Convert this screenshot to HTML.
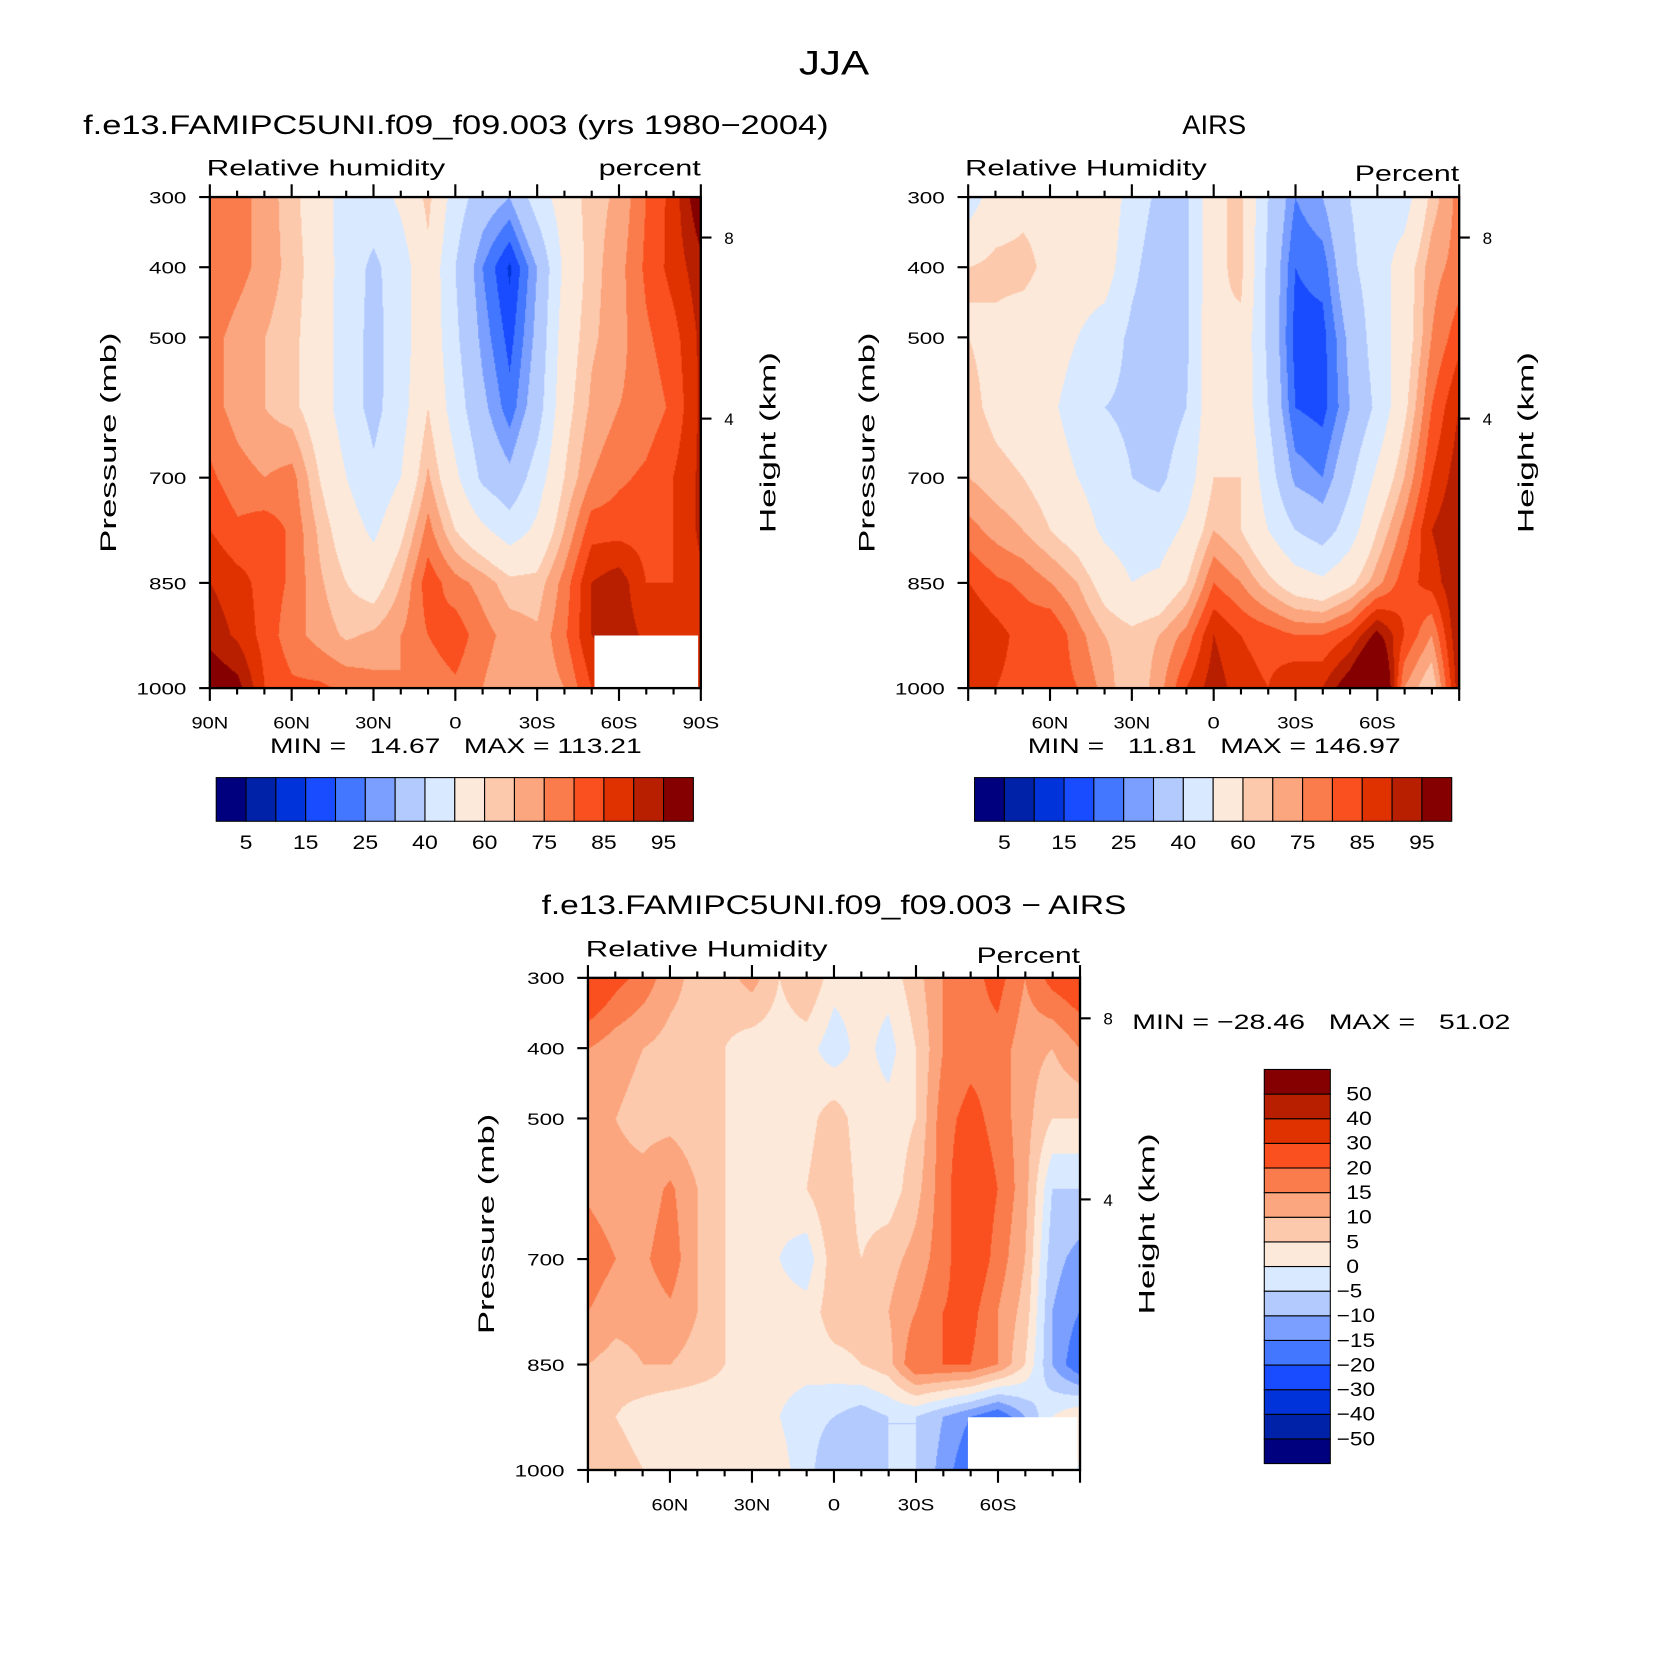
<!DOCTYPE html>
<html><head><meta charset="utf-8">
<style>
html,body{margin:0;padding:0;background:#fff;overflow:hidden;width:1669px;height:1666px}
#wrap{position:absolute;left:0;top:0;width:1567px;height:1564px;transform-origin:0 0;transform:scale(1.0651,1.0652)}
canvas{position:absolute}
svg{position:absolute;left:0;top:0}
text{font-family:"Liberation Sans",sans-serif;fill:#000}
</style></head><body>
<div id="wrap">
<canvas id="c1" width="461" height="461" style="left:197px;top:185px"></canvas>
<canvas id="c2" width="461" height="461" style="left:909px;top:185px"></canvas>
<canvas id="c3" width="462" height="462" style="left:552px;top:918px"></canvas>
<svg id="s" width="1567" height="1564"></svg>
</div>
<script>
const lats=[90,80,70,60,50,40,30,20,10,0,-10,-20,-30,-40,-50,-60,-70,-80,-90];
const pres=[300,400,500,600,700,775,850,925,1000];
const modelRH=[
[72,72,68,62,55,45,45,52,62,45,35,30,45,55,63,66,75,82,95],
[75,72,68,63,56,45,38,45,58,40,25,14,30,52,63,68,76,82,88],
[72,68,65,62,55,45,37,45,58,42,28,18,32,55,64,68,74,78,86],
[72,68,65,62,55,45,37,46,60,45,32,22,35,57,66,70,72,76,86],
[76,72,70,72,60,50,42,50,66,52,38,32,45,60,70,74,76,80,86],
[80,76,78,74,64,55,48,58,72,60,52,45,52,65,78,78,78,80,86],
[85,82,78,74,66,60,56,65,78,72,68,62,62,72,85,88,80,80,84],
[88,84,78,72,68,64,66,70,75,78,72,68,66,74,85,88,84,82,84],
[95,92,80,76,76,74,72,70,72,74,70,66,66,70,80,85,85,85,85]];
const airsRH=[
[45,55,58,58,58,58,45,38,38,58,62,40,25,30,40,45,45,62,72],
[60,62,62,58,55,55,42,35,38,58,62,38,20,22,38,45,55,68,72],
[60,58,56,55,50,45,38,35,38,60,58,38,18,18,32,45,55,70,78],
[62,58,56,52,45,40,38,35,40,58,58,40,20,18,30,42,58,75,85],
[65,62,60,56,50,45,40,38,45,60,60,45,28,25,38,52,65,80,88],
[72,68,65,60,55,48,45,45,52,65,60,50,40,35,45,60,72,85,90],
[80,76,74,70,65,56,50,52,60,75,70,62,55,52,58,68,78,82,90],
[85,82,78,80,72,65,62,65,72,85,80,78,75,75,80,92,80,70,90],
[85,80,78,78,75,68,60,68,80,88,82,80,85,85,95,110,70,60,88]];
const diffRH=[
[28,22,18,12,8,8,12,5,10,2,2,2,8,15,18,22,15,22,25],
[15,12,10,8,8,5,2,2,2,-3,2,-2,5,15,18,18,12,10,15],
[12,10,8,8,6,5,2,2,3,8,2,2,5,18,22,18,12,5,5],
[14,12,12,16,10,5,2,2,5,10,3,2,8,18,25,20,12,-5,-5],
[18,15,14,18,10,5,2,0,-3,8,5,8,12,18,25,18,10,-8,-12],
[15,12,12,14,10,5,2,2,2,8,8,10,15,20,22,15,8,-10,-15],
[10,8,10,10,8,5,2,2,2,3,5,8,20,20,20,15,5,-10,-20],
[8,5,2,0,0,2,2,0,-3,-5,-8,-5,-5,-10,-15,-20,-10,0,5],
[10,8,5,5,5,2,2,2,-3,-10,-5,-5,-5,-12,-20,-30,-20,-10,0]];
const rhLevels=[5,10,15,20,25,30,40,50,60,65,70,75,80,85,90,95];
const rhLabels=["5","15","25","40","60","75","85","95"];
const diffLevels=[-50,-40,-30,-20,-15,-10,-5,0,5,10,15,20,30,40,50];
const colors=["#00007f","#0022a8","#0033d9","#1a4cff","#4477ff","#7b9fff","#b3caff","#d9e9ff","#fde9da","#fcc9ac","#fba67e","#fa7b4b","#fa4f1e","#e03100","#b71f00","#850000"];

function levelColor(v,lv){let i=0;while(i<lv.length&&v>=lv[i])i++;return colors[Math.min(i,15)];}
function sample(grid,lat,p){
  let fx=(90-lat)/10; let i=Math.min(17,Math.floor(fx)); let tx=fx-i;
  let j=0; while(j<pres.length-2&&p>pres[j+1])j++;
  let ty=(p-pres[j])/(pres[j+1]-pres[j]);
  const a=grid[j][i],b=grid[j][i+1],c=grid[j+1][i],d=grid[j+1][i+1];
  return (a*(1-tx)+b*tx)*(1-ty)+(c*(1-tx)+d*tx)*ty;
}
function fill(id,grid,lv){
  const cv=document.getElementById(id),ctx=cv.getContext('2d'),W=cv.width,H=cv.height;
  for(let y=0;y<H;y++){const p=300+700*y/(H-1);
    for(let x=0;x<W;x++){const lat=90-180*x/(W-1);
      ctx.fillStyle=levelColor(sample(grid,lat,p),lv);ctx.fillRect(x,y,1,1);}}
}
fill('c1',modelRH,rhLevels);fill('c2',airsRH,rhLevels);fill('c3',diffRH,diffLevels);

const S=document.getElementById('s');const NS='http://www.w3.org/2000/svg';
function el(tag,at,txt){const e=document.createElementNS(NS,tag);for(const k in at)e.setAttribute(k,at[k]);if(txt!==undefined)e.textContent=txt;S.appendChild(e);return e;}
function T(x,y,s,size,anchor,name,rot,len){const at={x:x,y:y,'font-size':size,'text-anchor':anchor||'start'};if(rot)at.transform='rotate(-90 '+x+' '+y+')';if(len){at.textLength=len;at.lengthAdjust='spacingAndGlyphs';}const e=el('text',at,s);e.style.whiteSpace='pre';return e;}

T(783,70,'JJA',32,'middle','figure-title',false,66);

function panel(x0,y0,w,h,pfx,latLabels,blanks){
  const X=lat=>x0+(90-lat)/180*w, Y=p=>y0+(p-300)/700*h;
  blanks.forEach(b=>{const r=el('rect',{x:X(b[0]),y:Y(b[1]),width:X(b[2])-X(b[0]),height:Y(1000)-Y(b[1]),fill:'#fff'});
    });
  const fr=el('rect',{x:x0,y:y0,width:w,height:h,fill:'none',stroke:'#000','stroke-width':2.2});
  
  for(let lat=90;lat>=-90;lat-=10){const maj=lat%30===0;const L=maj?12:6;const x=X(lat);
    el('line',{x1:x,x2:x,y1:y0,y2:y0-L,stroke:'#000','stroke-width':2});
    el('line',{x1:x,x2:x,y1:y0+h,y2:y0+h+L,stroke:'#000','stroke-width':2});
    if(maj){const lab=lat===0?'0':Math.abs(lat)+(lat>0?'N':'S');
      if(latLabels.indexOf(lab)>=0) T(x,y0+h+38,lab,16,'middle',pfx+'-x-tick-label',false,lab.length*11.5);}}
  [300,400,500,700,850,1000].forEach(p=>{el('line',{x1:x0,x2:x0-10,y1:Y(p),y2:Y(p),stroke:'#000','stroke-width':2});
    const s=String(p);T(x0-22,Y(p)+6,s,16,'end',pfx+'-y-tick-label',false,s.length*11.7);});
  [[223,'8'],[393,'4']].forEach(a=>{const yy=y0+(a[0]-185);el('line',{x1:x0+w,x2:x0+w+10,y1:yy,y2:yy,stroke:'#000','stroke-width':2});
    T(x0+w+22,yy+6,a[1],16,'start',pfx+'-height-tick-label');});
  T(x0-88,y0+h/2,'Pressure (mb)',21,'middle',pfx+'-y-axis-title',true,207);
  T(x0+w+70,y0+h/2,'Height (km)',21,'middle',pfx+'-height-axis-title',true,170);
}
panel(197,185,461,461,'model',['90N','60N','30N','0','30S','60S','90S'],[[-51,925,-89]]);
panel(909,185,461,461,'airs',['60N','30N','0','30S','60S'],[]);
panel(552,918,462,462,'diff',['60N','30N','0','30S','60S'],[[-49,925,-89]]);

T(428,126,'f.e13.FAMIPC5UNI.f09_f09.003 (yrs 1980\u22122004)',25,'middle','model-title',false,700);
T(194,165,'Relative humidity',21,'start','model-left-string',false,224);
T(658,165,'percent',21,'end','model-right-string',false,96);
T(1140,126,'AIRS',25,'middle','airs-title',false,60);
T(906,165,'Relative Humidity',21,'start','airs-left-string',false,227);
T(1370,170,'Percent',21,'end','airs-right-string',false,98);
T(783,858,'f.e13.FAMIPC5UNI.f09_f09.003 \u2212 AIRS',25,'middle','diff-title',false,549);
T(550,898,'Relative Humidity',21,'start','diff-left-string',false,227);
T(1014,904,'Percent',21,'end','diff-right-string',false,97);
T(428,707,'MIN =   14.67   MAX = 113.21',20,'middle','model-min-max',false,349);
T(1140,707,'MIN =   11.81   MAX = 146.97',20,'middle','airs-min-max',false,350);
T(1063,966,'MIN = \u221228.46   MAX =   51.02',20,'start','diff-min-max',false,355);

function hbar(x0,pfx){for(let i=0;i<16;i++){const r=el('rect',{x:x0+i*28,y:730,width:28,height:41,fill:colors[i],stroke:'#000','stroke-width':1});
  }
  rhLabels.forEach((s,k)=>T(x0+28*(2*k+1),797,s,18,'middle',pfx+'-colorbar-label',false,s.length*12));}
hbar(203,'model');hbar(915,'airs');
for(let i=0;i<16;i++){const r=el('rect',{x:1187,y:1004+(15-i)*23.125,width:62,height:23.125,fill:colors[i],stroke:'#000','stroke-width':1});
  }
for(let k=0;k<15;k++){const v=diffLevels[14-k];const s=(v<0?'\u2212':'')+Math.abs(v);
  T(v<0?1255:1264,1004+(k+1)*23.125+6,s,18,'start','diff-colorbar-label',false,s.length*12);}
</script>
</body></html>
